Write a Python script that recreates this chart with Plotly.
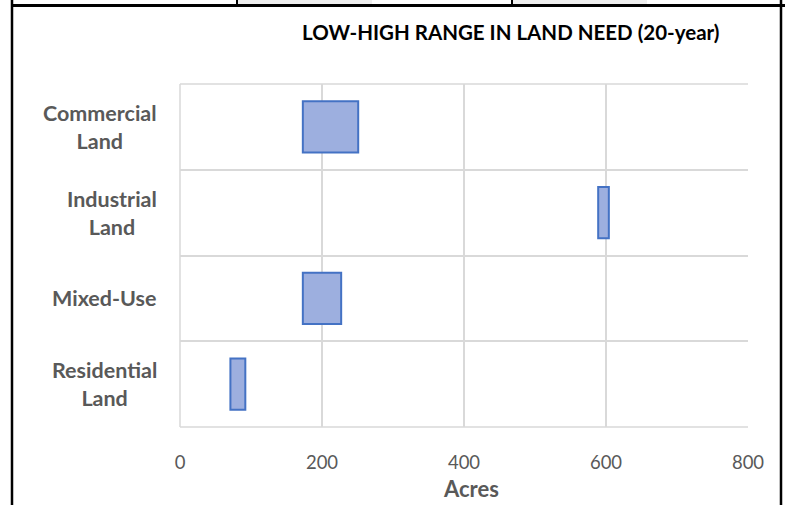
import plotly.graph_objects as go

categories = ["Commercial Land", "Industrial Land", "Mixed-Use", "Residential Land"]
category_labels = ["Commercial<br>Land", "Industrial<br>Land", "Mixed-Use", "Residential<br>Land"]
low_values = [173, 589, 173, 71]
high_values = [251, 604, 227, 92]
x_ticks = [0, 200, 400, 600, 800]

W, H = 785, 505
L, R, T, B = 180, 748, 84, 427


def px(x):
    return (x - L) / (R - L)


def py(y):
    return (B - y) / (B - T)


fig = go.Figure()
fig.add_trace(go.Bar(
    y=categories,
    x=[h - l for l, h in zip(low_values, high_values)],
    base=low_values,
    orientation="h",
    marker=dict(color="#9dafdf", line=dict(color="#4472c4", width=2)),
    width=0.6,
    hoverinfo="skip",
))

grid = "#d9d9d9"
gray = "#595959"
font = "Lato, Open Sans, sans-serif"

fig.update_layout(
    width=W, height=H,
    margin=dict(l=L, r=W - R, t=T, b=H - B),
    plot_bgcolor="white", paper_bgcolor="white",
    showlegend=False,
    font=dict(family=font, color=gray),
    xaxis=dict(
        range=[0, 800], tickvals=x_ticks, showgrid=True, gridcolor=grid, gridwidth=1.5,
        zeroline=False, showline=False, ticks="",
        ticklabelstandoff=22,
        tickfont=dict(size=18.5, color=gray, family=font),
    ),
    yaxis=dict(
        type="category", categoryorder="array", categoryarray=categories[::-1],
        tickson="boundaries", showgrid=True, gridcolor=grid, gridwidth=1.5,
        showticklabels=False, ticks="", zeroline=False, showline=False,
        range=[-0.5, 3.5],
    ),
)

# left plot edge and bottom/top edge lines
fig.add_shape(type="line", xref="paper", yref="paper", x0=0, x1=0, y0=0, y1=1,
              line=dict(color=grid, width=1.5))
fig.add_shape(type="line", xref="paper", yref="paper", x0=0, x1=1, y0=0, y1=0,
              line=dict(color=grid, width=1.5))
fig.add_shape(type="line", xref="paper", yref="paper", x0=0, x1=1, y0=1, y1=1,
              line=dict(color=grid, width=1.5))

# category labels (centered multi-line)
for cat, lab in zip(categories, category_labels):
    fig.add_annotation(x=px(159), xref="paper", y=cat, yref="y", text="<b>" + lab + "</b>",
                       showarrow=False, xanchor="right", yanchor="middle", align="center",
                       font=dict(size=21.5, color=gray, family=font))

# axis title
fig.add_annotation(x=px(471), xref="paper", y=py(489), yref="paper", text="<b>Acres</b>",
                   showarrow=False, xanchor="center", yanchor="middle",
                   font=dict(size=22, color=gray, family=font))

# title
fig.add_annotation(x=px(511), xref="paper", y=py(32), yref="paper",
                   text="<b>LOW-HIGH RANGE IN LAND NEED (20-year)</b>", showarrow=False,
                   xanchor="center", yanchor="middle",
                   font=dict(size=20.5, color="black", family=font))

# surrounding table frame
fig.add_shape(type="rect", xref="paper", yref="paper", x0=px(238), x1=px(372), y0=py(4), y1=py(0),
              line=dict(width=0), fillcolor="#eeeeee", layer="below")
fig.add_shape(type="rect", xref="paper", yref="paper", x0=px(513), x1=px(647), y0=py(4), y1=py(0),
              line=dict(width=0), fillcolor="#eeeeee", layer="below")
fig.add_shape(type="line", xref="paper", yref="paper", x0=px(237), x1=px(237), y0=py(0), y1=py(6),
              line=dict(color="black", width=2))
fig.add_shape(type="line", xref="paper", yref="paper", x0=px(512), x1=px(512), y0=py(0), y1=py(6),
              line=dict(color="black", width=2))
fig.add_shape(type="line", xref="paper", yref="paper", x0=px(11), x1=px(785), y0=py(5.5), y1=py(5.5),
              line=dict(color="black", width=3))
fig.add_shape(type="line", xref="paper", yref="paper", x0=px(12), x1=px(12), y0=py(0), y1=py(505),
              line=dict(color="black", width=2.5))
fig.add_shape(type="line", xref="paper", yref="paper", x0=px(781), x1=px(781), y0=py(0), y1=py(505),
              line=dict(color="black", width=2.5))

fig.write_html("out.html", config={"displayModeBar": False},
               post_script="document.body.style.margin='0';document.body.style.overflow='hidden';")
